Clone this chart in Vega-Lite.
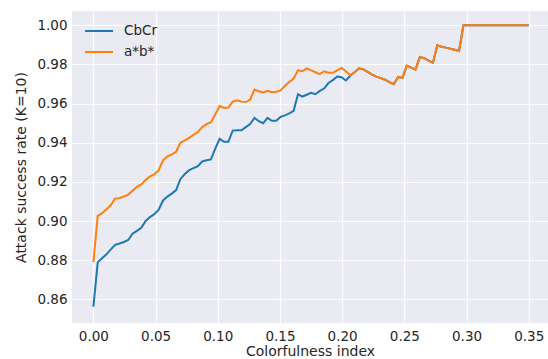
{
 "$schema": "https://vega.github.io/schema/vega-lite/v6.json",
 "width": 476, "height": 312,
 "autosize": {"type": "none"},
 "padding": {"left": 72, "top": 11, "right": 0, "bottom": 36},
 "background": "white",
 "config": {
  "view": {"fill": "#EAEAF2", "stroke": null},
  "font": "DejaVu Sans",
  "axis": {"domain": false, "ticks": false, "gridColor": "white", "gridWidth": 1.2, "labelColor": "#262626", "titleColor": "#262626", "labelFontSize": 13.5, "titleFontSize": 14, "titleFontWeight": "normal", "labelFont": "DejaVu Sans", "titleFont": "DejaVu Sans"},
  "legend": {"labelFont": "DejaVu Sans", "labelFontSize": 13.5, "labelColor": "#262626"}
 },
 "data": {"values": [
{"x":0,"s":"CbCr","y":0.8562},{"x":0.0035,"s":"CbCr","y":0.8789},{"x":0.007,"s":"CbCr","y":0.881},{"x":0.0105,"s":"CbCr","y":0.883},{"x":0.014,"s":"CbCr","y":0.8855},{"x":0.0175,"s":"CbCr","y":0.8878},{"x":0.021,"s":"CbCr","y":0.8885},{"x":0.0245,"s":"CbCr","y":0.8893},{"x":0.028,"s":"CbCr","y":0.8903},{"x":0.0315,"s":"CbCr","y":0.8935},
{"x":0.035,"s":"CbCr","y":0.895},{"x":0.0385,"s":"CbCr","y":0.8965},{"x":0.042,"s":"CbCr","y":0.9},{"x":0.0455,"s":"CbCr","y":0.902},{"x":0.049,"s":"CbCr","y":0.9035},{"x":0.0525,"s":"CbCr","y":0.9058},{"x":0.056,"s":"CbCr","y":0.9105},{"x":0.0595,"s":"CbCr","y":0.9125},{"x":0.063,"s":"CbCr","y":0.914},{"x":0.0665,"s":"CbCr","y":0.9158},
{"x":0.07,"s":"CbCr","y":0.9215},{"x":0.0735,"s":"CbCr","y":0.924},{"x":0.077,"s":"CbCr","y":0.926},{"x":0.0805,"s":"CbCr","y":0.927},{"x":0.084,"s":"CbCr","y":0.928},{"x":0.0875,"s":"CbCr","y":0.9305},{"x":0.091,"s":"CbCr","y":0.931},{"x":0.0945,"s":"CbCr","y":0.9315},{"x":0.098,"s":"CbCr","y":0.937},{"x":0.1015,"s":"CbCr","y":0.942},
{"x":0.105,"s":"CbCr","y":0.9405},{"x":0.1085,"s":"CbCr","y":0.9405},{"x":0.112,"s":"CbCr","y":0.9462},{"x":0.1155,"s":"CbCr","y":0.9464},{"x":0.119,"s":"CbCr","y":0.9464},{"x":0.1225,"s":"CbCr","y":0.948},{"x":0.126,"s":"CbCr","y":0.9495},{"x":0.1295,"s":"CbCr","y":0.9527},{"x":0.133,"s":"CbCr","y":0.951},{"x":0.1365,"s":"CbCr","y":0.95},
{"x":0.14,"s":"CbCr","y":0.9527},{"x":0.1435,"s":"CbCr","y":0.9512},{"x":0.147,"s":"CbCr","y":0.9512},{"x":0.1505,"s":"CbCr","y":0.9532},{"x":0.154,"s":"CbCr","y":0.954},{"x":0.1575,"s":"CbCr","y":0.955},{"x":0.161,"s":"CbCr","y":0.9563},{"x":0.1645,"s":"CbCr","y":0.9648},{"x":0.168,"s":"CbCr","y":0.9636},{"x":0.1715,"s":"CbCr","y":0.9645},
{"x":0.175,"s":"CbCr","y":0.9655},{"x":0.1785,"s":"CbCr","y":0.9648},{"x":0.182,"s":"CbCr","y":0.9665},{"x":0.1855,"s":"CbCr","y":0.9677},{"x":0.189,"s":"CbCr","y":0.9705},{"x":0.1925,"s":"CbCr","y":0.972},{"x":0.196,"s":"CbCr","y":0.9738},{"x":0.1995,"s":"CbCr","y":0.9735},{"x":0.203,"s":"CbCr","y":0.9718},{"x":0.2065,"s":"CbCr","y":0.9742},
{"x":0.21,"s":"CbCr","y":0.976},{"x":0.2135,"s":"CbCr","y":0.978},{"x":0.217,"s":"CbCr","y":0.9775},{"x":0.2205,"s":"CbCr","y":0.9762},{"x":0.224,"s":"CbCr","y":0.9748},{"x":0.2275,"s":"CbCr","y":0.9738},{"x":0.231,"s":"CbCr","y":0.973},{"x":0.2345,"s":"CbCr","y":0.9722},{"x":0.238,"s":"CbCr","y":0.971},{"x":0.2415,"s":"CbCr","y":0.9699},
{"x":0.245,"s":"CbCr","y":0.9736},{"x":0.2485,"s":"CbCr","y":0.9731},{"x":0.252,"s":"CbCr","y":0.9794},{"x":0.2555,"s":"CbCr","y":0.9784},{"x":0.259,"s":"CbCr","y":0.9774},{"x":0.2625,"s":"CbCr","y":0.9838},{"x":0.266,"s":"CbCr","y":0.9832},{"x":0.2695,"s":"CbCr","y":0.982},{"x":0.273,"s":"CbCr","y":0.9808},{"x":0.2765,"s":"CbCr","y":0.9898},
{"x":0.28,"s":"CbCr","y":0.989},{"x":0.2835,"s":"CbCr","y":0.9886},{"x":0.287,"s":"CbCr","y":0.988},{"x":0.2905,"s":"CbCr","y":0.9875},{"x":0.294,"s":"CbCr","y":0.9869},{"x":0.2975,"s":"CbCr","y":1.0},{"x":0.301,"s":"CbCr","y":1.0},{"x":0.3045,"s":"CbCr","y":1.0},{"x":0.308,"s":"CbCr","y":1.0},{"x":0.3115,"s":"CbCr","y":1.0},
{"x":0.315,"s":"CbCr","y":1.0},{"x":0.3185,"s":"CbCr","y":1.0},{"x":0.322,"s":"CbCr","y":1.0},{"x":0.3255,"s":"CbCr","y":1.0},{"x":0.329,"s":"CbCr","y":1.0},{"x":0.3325,"s":"CbCr","y":1.0},{"x":0.336,"s":"CbCr","y":1.0},{"x":0.3395,"s":"CbCr","y":1.0},{"x":0.343,"s":"CbCr","y":1.0},{"x":0.3465,"s":"CbCr","y":1.0},{"x":0.35,"s":"CbCr","y":1.0},
{"x":0,"s":"a*b*","y":0.879},{"x":0.0035,"s":"a*b*","y":0.9026},{"x":0.007,"s":"a*b*","y":0.904},{"x":0.0105,"s":"a*b*","y":0.906},{"x":0.014,"s":"a*b*","y":0.908},{"x":0.0175,"s":"a*b*","y":0.9115},{"x":0.021,"s":"a*b*","y":0.9117},{"x":0.0245,"s":"a*b*","y":0.9125},{"x":0.028,"s":"a*b*","y":0.9135},{"x":0.0315,"s":"a*b*","y":0.9155},
{"x":0.035,"s":"a*b*","y":0.9175},{"x":0.0385,"s":"a*b*","y":0.9187},{"x":0.042,"s":"a*b*","y":0.921},{"x":0.0455,"s":"a*b*","y":0.9228},{"x":0.049,"s":"a*b*","y":0.9238},{"x":0.0525,"s":"a*b*","y":0.926},{"x":0.056,"s":"a*b*","y":0.931},{"x":0.0595,"s":"a*b*","y":0.933},{"x":0.063,"s":"a*b*","y":0.934},{"x":0.0665,"s":"a*b*","y":0.9354},
{"x":0.07,"s":"a*b*","y":0.94},{"x":0.0735,"s":"a*b*","y":0.9412},{"x":0.077,"s":"a*b*","y":0.9425},{"x":0.0805,"s":"a*b*","y":0.944},{"x":0.084,"s":"a*b*","y":0.9455},{"x":0.0875,"s":"a*b*","y":0.948},{"x":0.091,"s":"a*b*","y":0.9495},{"x":0.0945,"s":"a*b*","y":0.9505},{"x":0.098,"s":"a*b*","y":0.9545},{"x":0.1015,"s":"a*b*","y":0.9588},
{"x":0.105,"s":"a*b*","y":0.9578},{"x":0.1085,"s":"a*b*","y":0.958},{"x":0.112,"s":"a*b*","y":0.961},{"x":0.1155,"s":"a*b*","y":0.9617},{"x":0.119,"s":"a*b*","y":0.961},{"x":0.1225,"s":"a*b*","y":0.9608},{"x":0.126,"s":"a*b*","y":0.962},{"x":0.1295,"s":"a*b*","y":0.9672},{"x":0.133,"s":"a*b*","y":0.9663},{"x":0.1365,"s":"a*b*","y":0.9657},
{"x":0.14,"s":"a*b*","y":0.9665},{"x":0.1435,"s":"a*b*","y":0.9658},{"x":0.147,"s":"a*b*","y":0.966},{"x":0.1505,"s":"a*b*","y":0.9667},{"x":0.154,"s":"a*b*","y":0.969},{"x":0.1575,"s":"a*b*","y":0.971},{"x":0.161,"s":"a*b*","y":0.9728},{"x":0.1645,"s":"a*b*","y":0.977},{"x":0.168,"s":"a*b*","y":0.9765},{"x":0.1715,"s":"a*b*","y":0.978},
{"x":0.175,"s":"a*b*","y":0.977},{"x":0.1785,"s":"a*b*","y":0.976},{"x":0.182,"s":"a*b*","y":0.975},{"x":0.1855,"s":"a*b*","y":0.9765},{"x":0.189,"s":"a*b*","y":0.9758},{"x":0.1925,"s":"a*b*","y":0.9757},{"x":0.196,"s":"a*b*","y":0.977},{"x":0.1995,"s":"a*b*","y":0.9782},{"x":0.203,"s":"a*b*","y":0.9765},{"x":0.2065,"s":"a*b*","y":0.9745},
{"x":0.21,"s":"a*b*","y":0.976},{"x":0.2135,"s":"a*b*","y":0.978},{"x":0.217,"s":"a*b*","y":0.9775},{"x":0.2205,"s":"a*b*","y":0.9762},{"x":0.224,"s":"a*b*","y":0.9748},{"x":0.2275,"s":"a*b*","y":0.9738},{"x":0.231,"s":"a*b*","y":0.973},{"x":0.2345,"s":"a*b*","y":0.9722},{"x":0.238,"s":"a*b*","y":0.971},{"x":0.2415,"s":"a*b*","y":0.9699},
{"x":0.245,"s":"a*b*","y":0.9736},{"x":0.2485,"s":"a*b*","y":0.9731},{"x":0.252,"s":"a*b*","y":0.9794},{"x":0.2555,"s":"a*b*","y":0.9784},{"x":0.259,"s":"a*b*","y":0.9774},{"x":0.2625,"s":"a*b*","y":0.9838},{"x":0.266,"s":"a*b*","y":0.9832},{"x":0.2695,"s":"a*b*","y":0.982},{"x":0.273,"s":"a*b*","y":0.9808},{"x":0.2765,"s":"a*b*","y":0.9898},
{"x":0.28,"s":"a*b*","y":0.989},{"x":0.2835,"s":"a*b*","y":0.9886},{"x":0.287,"s":"a*b*","y":0.988},{"x":0.2905,"s":"a*b*","y":0.9875},{"x":0.294,"s":"a*b*","y":0.9869},{"x":0.2975,"s":"a*b*","y":1.0},{"x":0.301,"s":"a*b*","y":1.0},{"x":0.3045,"s":"a*b*","y":1.0},{"x":0.308,"s":"a*b*","y":1.0},{"x":0.3115,"s":"a*b*","y":1.0},
{"x":0.315,"s":"a*b*","y":1.0},{"x":0.3185,"s":"a*b*","y":1.0},{"x":0.322,"s":"a*b*","y":1.0},{"x":0.3255,"s":"a*b*","y":1.0},{"x":0.329,"s":"a*b*","y":1.0},{"x":0.3325,"s":"a*b*","y":1.0},{"x":0.336,"s":"a*b*","y":1.0},{"x":0.3395,"s":"a*b*","y":1.0},{"x":0.343,"s":"a*b*","y":1.0},{"x":0.3465,"s":"a*b*","y":1.0},{"x":0.35,"s":"a*b*","y":1.0}
 ]},
 "encoding": {
  "x": {"field": "x", "type": "quantitative", "scale": {"domain": [-0.0172, 0.3655], "nice": false, "zero": false},
        "axis": {"values": [0, 0.05, 0.1, 0.15, 0.2, 0.25, 0.3, 0.35], "format": ".2f", "title": "Colorfulness index", "labelPadding": 6, "titlePadding": 2}},
  "y": {"field": "y", "type": "quantitative", "scale": {"domain": [0.8479, 1.0073], "nice": false, "zero": false},
        "axis": {"values": [0.86, 0.88, 0.9, 0.92, 0.94, 0.96, 0.98, 1.0], "format": ".2f", "title": "Attack success rate (K=10)", "labelPadding": 5, "titlePadding": 8}},
  "color": {"field": "s", "type": "nominal", "scale": {"domain": ["CbCr", "a*b*"], "range": ["#1f77b4", "#ff7f0e"]},
            "legend": {"title": null, "orient": "none", "legendX": 16, "legendY": 9, "symbolType": "M-1.4,0H1.4", "symbolSize": 400, "symbolStrokeWidth": 2, "labelOffset": 14, "rowPadding": 3}}
 },
 "layer": [
  {"transform": [{"filter": "datum.s === 'CbCr'"}], "mark": {"type": "line", "strokeWidth": 2}},
  {"transform": [{"filter": "datum.s === 'a*b*'"}], "mark": {"type": "line", "strokeWidth": 2}}
 ]
}
